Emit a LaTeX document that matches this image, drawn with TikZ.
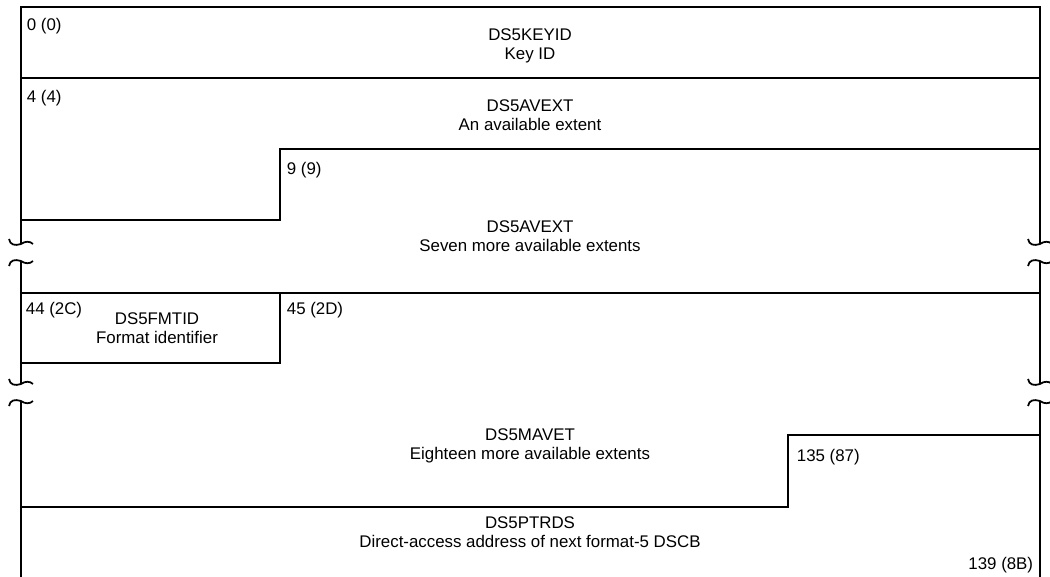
\documentclass[tikz,border=0pt]{standalone}
\usepackage{fontspec}
\setmainfont{Liberation Sans}

\begin{document}
\begin{tikzpicture}[x=0.02cm,y=-0.02cm,line width=1pt,
  field/.style={align=center,inner sep=0pt,font=\fontsize{9.6}{10.8}\selectfont},
  offs/.style={anchor=base west,inner sep=0pt,font=\fontsize{9.6}{10.8}\selectfont}]
\useasboundingbox (0,0) rectangle (1050,577);
% frame: top and sides, broken twice
\draw (21,244) -- (21,7) -- (1040,7) -- (1040,244);
\draw (21,261) -- (21,384);
\draw (1040,261) -- (1040,384);
\draw (21,401) -- (21,577);
\draw (1040,401) -- (1040,577);
% field boundaries
\draw (21,78) -- (1040,78);
\draw (21,220) -- (280,220) -- (280,149) -- (1040,149);
\draw (21,293) -- (1040,293);
\draw (280,293) -- (280,363) -- (21,363);
\draw (21,507) -- (788,507) -- (788,435) -- (1040,435);
% break marks
\foreach \bx in {21,1040}
  \foreach \by/\ty in {244/261,384/401} {
    \draw (\bx-12,\by-5) .. controls (\bx-11,\by+1) and (\bx-6,\by+2) .. (\bx,\by)
      .. controls (\bx+4,\by-3) and (\bx+9,\by-3) .. (\bx+12,\by);
    \draw (\bx-12,\ty+5) .. controls (\bx-11,\ty-1) and (\bx-6,\ty-2) .. (\bx,\ty)
      .. controls (\bx+4,\ty+3) and (\bx+9,\ty+3) .. (\bx+12,\ty);
  }
% offsets and field names
\node[offs] (o0) at (26,31) {0 (0)};
\node[field] (keyid) at (530,46) {DS5KEYID\\Key ID};
\node[offs] (o4) at (26,103) {4 (4)};
\node[field] (avext) at (530,115) {DS5AVEXT\\An available extent};
\node[offs] (o9) at (286,175) {9 (9)};
\node[field] (avextb) at (530,236) {DS5AVEXT\\Seven more available extents};
\node[offs] (o44) at (25,314) {44 (2C)};
\node[field] (fmtid) at (157,328) {DS5FMTID\\Format identifier};
\node[offs] (o45) at (286,314) {45 (2D)};
\node[field] (mavet) at (530,446) {DS5MAVET\\Eighteen more available extents};
\node[offs] (o135) at (796,461) {135 (87)};
\node[field] (ptrds) at (530,532) {DS5PTRDS\\Direct-access address of next format-5 DSCB};
\node[offs,anchor=base east] (o139) at (1034,569) {139 (8B)};
\end{tikzpicture}
\end{document}
